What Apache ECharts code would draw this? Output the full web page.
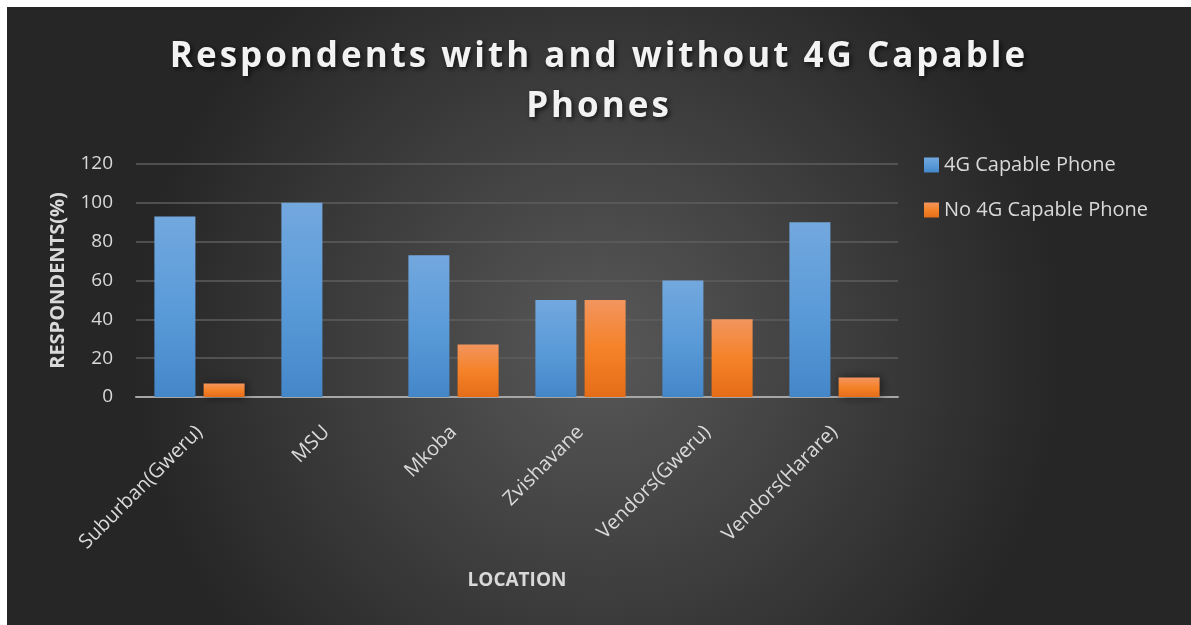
<!DOCTYPE html>
<html>
<head>
<meta charset="utf-8">
<script src="https://cdn.jsdelivr.net/npm/echarts@6/dist/echarts.min.js"></script>
<style>
  html, body { margin: 0; padding: 0; background: #ffffff; }
  #chart { position: absolute; left: 7px; top: 7px; width: 1184px; height: 618px; }
</style>
</head>
<body>
<div id="chart"></div>
<script>
const categories = ['Suburban(Gweru)', 'MSU', 'Mkoba', 'Zvishavane', 'Vendors(Gweru)', 'Vendors(Harare)'];
const capable = [93, 100, 73, 50, 60, 90];
const notCapable = [7, 0, 27, 50, 40, 10];
const seriesNames = ['4G Capable Phone', 'No 4G Capable Phone'];
const yTicks = { min: 0, max: 120, interval: 20 };

const FONT = '"Open Sans", Lato, sans-serif';
const TITLE_SIZE = 35;

// letter-spaced title (the reference title is drawn with wide tracking)
(function () {
  const proto = CanvasRenderingContext2D.prototype;
  const orig = proto.fillText;
  proto.fillText = function (t, x, y, m) {
    if (this.font && this.font.indexOf(TITLE_SIZE + 'px') >= 0 && 'letterSpacing' in this) {
      const prev = this.letterSpacing;
      this.letterSpacing = '3px';
      const r = m === undefined ? orig.call(this, t, x, y) : orig.call(this, t, x, y, m);
      this.letterSpacing = prev;
      return r;
    }
    return m === undefined ? orig.call(this, t, x, y) : orig.call(this, t, x, y, m);
  };
})();

const chart = echarts.init(document.getElementById('chart'));

function vGrad(top, mid, bottom) {
  return new echarts.graphic.LinearGradient(0, 0, 0, 1, [
    { offset: 0, color: top },
    { offset: 0.5, color: mid },
    { offset: 1, color: bottom }
  ]);
}

chart.setOption({
  backgroundColor: {
    type: 'radial', x: 0.5, y: 0.55, r: 0.75,
    colorStops: [
      { offset: 0, color: '#585858' },
      { offset: 1, color: '#262626' }
    ]
  },
  title: {
    text: 'Respondents with and without 4G Capable\nPhones',
    left: 'center',
    top: 20,
    textStyle: {
      fontFamily: FONT,
      fontSize: TITLE_SIZE,
      fontWeight: 'bold',
      color: '#f2f2f2',
      lineHeight: 50,
      textShadowColor: 'rgba(0,0,0,0.7)',
      textShadowBlur: 5,
      textShadowOffsetX: 2,
      textShadowOffsetY: 2
    }
  },
  legend: {
    orient: 'vertical',
    left: 912,
    top: 142,
    itemWidth: 15,
    itemHeight: 15,
    itemGap: 23,
    icon: 'rect',
    textStyle: { fontFamily: FONT, fontSize: 20, color: '#d9d9d9', lineHeight: 22 },
    data: seriesNames
  },
  grid: { left: 129, right: 293, top: 157, bottom: 228, containLabel: false },
  xAxis: {
    type: 'category',
    data: categories,
    name: 'LOCATION',
    nameLocation: 'middle',
    nameGap: 174,
    nameTextStyle: { fontFamily: FONT, fontSize: 19, fontWeight: 'bold', color: '#d9d9d9' },
    axisLine: { lineStyle: { color: '#a6a6a6', width: 2 } },
    axisTick: { show: false },
    axisLabel: {
      rotate: 45, margin: 32, interval: 0,
      fontFamily: FONT, fontSize: 20, color: '#d9d9d9'
    }
  },
  yAxis: {
    type: 'value',
    min: yTicks.min, max: yTicks.max, interval: yTicks.interval,
    name: 'RESPONDENTS(%)',
    nameLocation: 'middle',
    nameGap: 68,
    nameRotate: 90,
    nameTextStyle: { fontFamily: FONT, fontSize: 20, fontWeight: 'bold', color: '#d9d9d9' },
    axisLine: { show: false },
    axisTick: { show: false },
    axisLabel: { fontFamily: FONT, fontSize: 19, color: '#d9d9d9', margin: 23 },
    splitLine: { lineStyle: { color: '#5e5e5e', width: 1.5 } }
  },
  series: [
    {
      name: seriesNames[0],
      type: 'bar',
      data: capable,
      barWidth: 41,
      barGap: '20%',
      itemStyle: {
        color: vGrad('#72a8de', '#5b9bd9', '#4487c9'),
        shadowColor: 'rgba(0,0,0,0.55)',
        shadowBlur: 10,
        shadowOffsetX: 2,
        shadowOffsetY: 0
      }
    },
    {
      name: seriesNames[1],
      type: 'bar',
      data: notCapable,
      barWidth: 41,
      itemStyle: {
        color: vGrad('#f2955e', '#f58228', '#e56d18'),
        shadowColor: 'rgba(0,0,0,0.55)',
        shadowBlur: 10,
        shadowOffsetX: 2,
        shadowOffsetY: 0
      }
    }
  ]
});
</script>
</body>
</html>
